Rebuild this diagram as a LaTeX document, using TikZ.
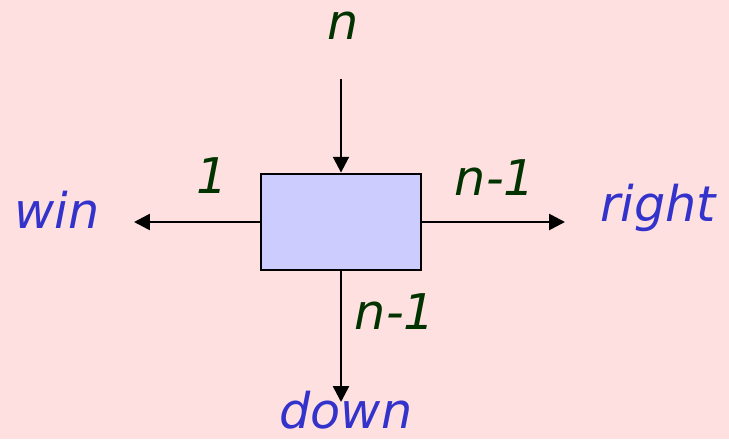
\documentclass[tikz,border=0pt]{standalone}
\usepackage{fontspec}
\setmainfont{DejaVu Sans}
\usetikzlibrary{arrows.meta}
\definecolor{bgpink}{HTML}{FFE0E0}
\definecolor{boxblue}{HTML}{CCCCFF}
\definecolor{countgreen}{HTML}{003300}
\definecolor{exitblue}{HTML}{3333CC}

\begin{document}
\begin{tikzpicture}[x=0.02cm, y=-0.02cm,
    flow/.style={-{Triangle[length=9pt,width=9pt]}, line width=1.5pt},
    block/.style={draw, line width=1.6pt, fill=boxblue, inner sep=0pt,
        minimum width=3.2cm, minimum height=1.92cm},
    countlabel/.style={text=countgreen, font=\fontsize{28}{32}\selectfont\itshape},
    exitlabel/.style={text=exitblue, font=\fontsize{28}{32}\selectfont\itshape}]
% background
\fill[bgpink] (0,0) rectangle (729,439);
% the box
\node[block] (box) at (341,222) {};
% free ends
\coordinate (top) at (341,79);
\coordinate (winend) at (134,222);
\coordinate (rightend) at (565,222);
\coordinate (downend) at (341,402);
% arrows
\draw[flow] (top) -- (box.north);
\draw[flow] (box.west) -- (winend);
\draw[flow] (box.east) -- (rightend);
\draw[flow] (box.south) -- (downend);
% counts
\node[countlabel] (nin) at (343,26) {n};
\node[countlabel] (nwin) at (212,176) {1};
\node[countlabel] (nright) at (495,178) {n-1};
\node[countlabel] (ndown) at (395,312) {n-1};
% exits
\node[exitlabel] (win) at (57,210) {win};
\node[exitlabel] (right) at (658,208) {right};
\node[exitlabel] (down) at (346,410) {down};
\end{tikzpicture}
\end{document}
